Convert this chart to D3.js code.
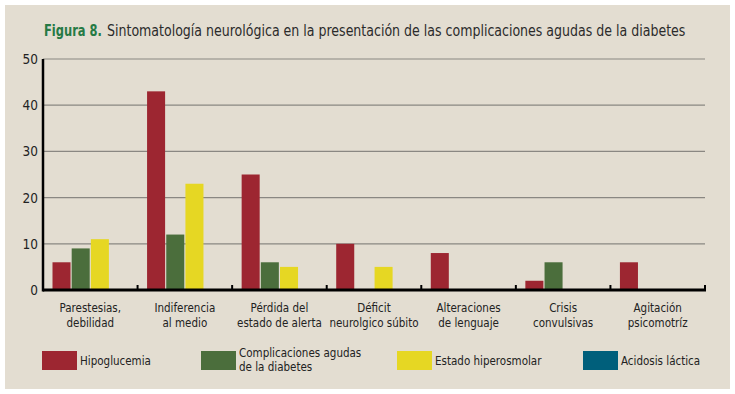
<!DOCTYPE html>
<html>
<head>
<meta charset="utf-8">
<script src="https://cdn.jsdelivr.net/npm/d3@7"></script>
<style>
  body { margin: 0; background: #fff; }
  svg { display: block; }
  text { font-family: "DejaVu Sans Condensed", "Liberation Sans", sans-serif; }
</style>
</head>
<body>
<div id="chart"></div>
<script>

var categories = [
  ['Parestesias,', 'debilidad'],
  ['Indiferencia', 'al medio'],
  ['Pérdida del', 'estado de alerta'],
  ['Déficit', 'neurolgico súbito'],
  ['Alteraciones', 'de lenguaje'],
  ['Crisis', 'convulsivas'],
  ['Agitación', 'psicomotríz']
];
var seriesNames = ['Hipoglucemia', 'Complicaciones agudas de la diabetes', 'Estado hiperosmolar', 'Acidosis láctica'];
var hipoglucemia = [6, 43, 25, 10, 8, 2, 6];
var complicaciones = [9, 12, 6, 0, 0, 6, 0];
var hiperosmolar = [11, 23, 5, 5, 0, 0, 0];
var acidosis = [0, 0, 0, 0, 0, 0, 0];
var yTicks = [0, 10, 20, 30, 40, 50];
var colors = ['#9d2631', '#4b6e3c', '#e6d723', '#005f7b'];

var width = 735, height = 394;
var margin = {top: 59, right: 30, bottom: 104, left: 43};  // plot area 43..705 x 59..290

var svg = d3.select('#chart').append('svg')
  .attr('width', width)
  .attr('height', height);

// beige panel
svg.append('rect')
  .attr('x', 5).attr('y', 5)
  .attr('width', 725).attr('height', 384)
  .attr('fill', '#e3ddd1');

// squeezes a text horizontally to a target width (the original font is condensed)
var squeeze = (sel, x, yPos, target) => {
  var len = sel.node().getComputedTextLength();
  sel.attr('transform', 'translate(' + x + ',' + yPos + ') scale(' + (target / len) + ',1)');
}

var fig = svg.append('text')
  .style('font-size', '16px')
  .style('font-weight', 'bold')
  .attr('fill', '#267a45')
  .text('Figura 8.');
squeeze(fig, 44, 36, 58);

var titleText = svg.append('text')
  .style('font-size', '16px')
  .attr('fill', '#2b2b2b')
  .text('Sintomatología neurológica en la presentación de las complicaciones agudas de la diabetes');
squeeze(titleText, 107, 36, 579);

var series = [hipoglucemia, complicaciones, hiperosmolar, acidosis];
var catIdx = d3.range(categories.length);

var x0 = d3.scaleBand()
  .domain(catIdx)
  .range([margin.left, width - margin.right]);

var x1 = d3.scaleBand()
  .domain(d3.range(series.length))
  .range([9.5, x0.bandwidth() - 9.5])
  .paddingInner(0.06);

var y = d3.scaleLinear()
  .domain([0, 50])
  .range([height - margin.bottom, margin.top]);

// gridlines
svg.append('g')
  .selectAll('line')
  .data(yTicks.slice(1))
  .enter()
  .append('line')
  .attr('x1', margin.left).attr('x2', width - margin.right)
  .attr('y1', function(d) { return y(d); })
  .attr('y2', function(d) { return y(d); })
  .attr('stroke', '#8a8782')
  .attr('stroke-width', 1.2);

// y axis labels
svg.append('g')
  .selectAll('text')
  .data(yTicks)
  .enter()
  .append('text')
  .attr('x', 38)
  .attr('y', function(d) { return y(d) + 5; })
  .attr('text-anchor', 'end')
  .style('font-size', '13.5px')
  .attr('fill', '#222')
  .text(function(d) { return d; });

// bars
var groups = svg.append('g')
  .selectAll('g')
  .data(catIdx)
  .enter()
  .append('g')
  .attr('transform', function(i) { return 'translate(' + x0(i) + ',0)'; });

groups.selectAll('rect')
  .data(function(i) { return series.map(function(s, k) { return {k: k, v: s[i]}; }); })
  .enter()
  .append('rect')
  .attr('x', function(d) { return x1(d.k); })
  .attr('width', x1.bandwidth())
  .attr('y', function(d) { return y(d.v); })
  .attr('height', function(d) { return y(0) - y(d.v); })
  .attr('fill', function(d) { return colors[d.k]; });

// axes
svg.append('line')
  .attr('x1', margin.left).attr('x2', margin.left)
  .attr('y1', y(50)).attr('y2', y(0) + 1.5)
  .attr('stroke', '#000').attr('stroke-width', 2.5);

svg.append('line')
  .attr('x1', margin.left).attr('x2', width - margin.right + 1)
  .attr('y1', y(0)).attr('y2', y(0))
  .attr('stroke', '#000').attr('stroke-width', 3);

// category ticks
svg.append('g')
  .selectAll('line')
  .data(catIdx.slice(1).concat([categories.length]))
  .enter()
  .append('line')
  .attr('x1', function(i) { return x0.range()[0] + i * x0.step(); })
  .attr('x2', function(i) { return x0.range()[0] + i * x0.step(); })
  .attr('y1', y(0)).attr('y2', y(0) - 5)
  .attr('stroke', '#000').attr('stroke-width', 2);

// category labels
var catLabels = svg.append('g')
  .selectAll('text')
  .data(catIdx)
  .enter()
  .append('text')
  .attr('text-anchor', 'middle')
  .attr('x', function(i) { return x0(i) + x0.bandwidth() / 2; })
  .attr('y', 312)
  .style('font-size', '11.5px')
  .attr('fill', '#222');

catLabels.append('tspan')
  .attr('x', function(i) { return x0(i) + x0.bandwidth() / 2; })
  .text(function(i) { return categories[i][0]; });
catLabels.append('tspan')
  .attr('x', function(i) { return x0(i) + x0.bandwidth() / 2; })
  .attr('dy', 15)
  .text(function(i) { return categories[i][1]; });

// legend
var legendX = [42, 201, 397, 583];
var legend = svg.append('g')
  .selectAll('g')
  .data(seriesNames)
  .enter()
  .append('g')
  .attr('transform', function(d, k) { return 'translate(' + legendX[k] + ',351)'; });

legend.append('rect')
  .attr('width', 35).attr('height', 19)
  .attr('fill', function(d, k) { return colors[k]; });

legend.each(function(d, k) {
  var t = d3.select(this).append('text')
    .attr('x', 38)
    .style('font-size', '11.5px')
    .attr('fill', '#222');
  if (k == 1) {
    t.append('tspan').attr('x', 38).attr('y', 6).text('Complicaciones agudas');
    t.append('tspan').attr('x', 38).attr('dy', 14).text('de la diabetes');
  } else {
    t.attr('y', 14).text(d);
  }
});

</script>
</body>
</html>
